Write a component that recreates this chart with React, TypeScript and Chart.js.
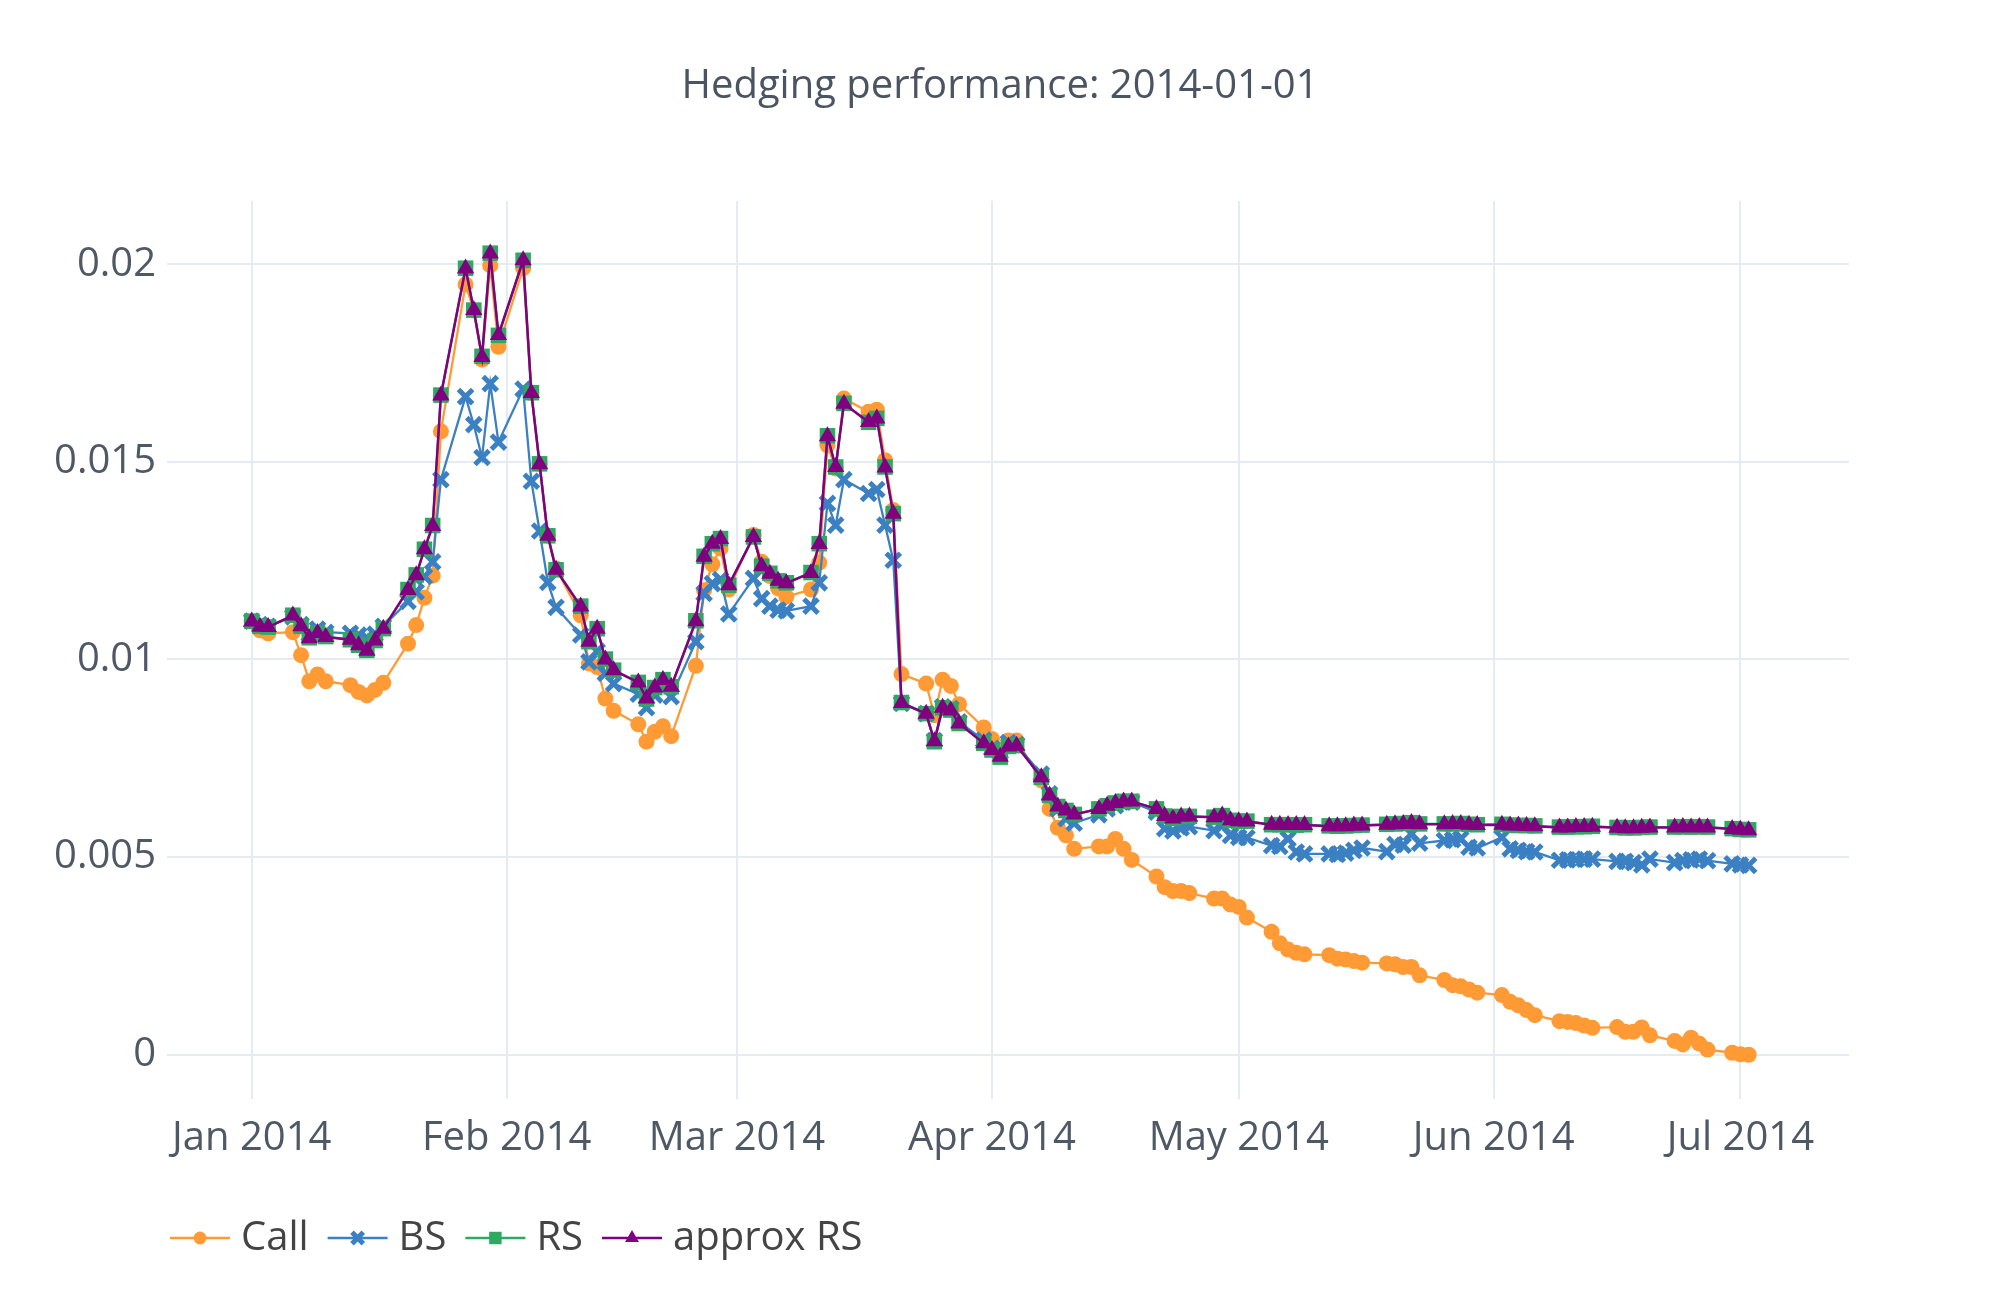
import { useEffect, useRef } from "react"
import { Chart, registerables } from "chart.js"
import { drawPoint } from "chart.js/helpers"

Chart.register(...registerables)

// weekdays present in the data, per month
const months = ["2014-01", "2014-02", "2014-03", "2014-04", "2014-05", "2014-06", "2014-07"]
const monthDays = [
  [1, 2, 3, 6, 7, 8, 9, 10, 13, 14, 15, 16, 17, 20, 21, 22, 23, 24, 27, 28, 29, 30, 31],
  [3, 4, 5, 6, 7, 10, 11, 12, 13, 14, 17, 18, 19, 20, 21, 24, 25, 26, 27, 28],
  [3, 4, 5, 6, 7, 10, 11, 12, 13, 14, 17, 18, 19, 20, 21, 24, 25, 26, 27, 28, 31],
  [1, 2, 3, 4, 7, 8, 9, 10, 11, 14, 15, 16, 17, 18, 21, 22, 23, 24, 25, 28, 29, 30],
  [1, 2, 5, 6, 7, 8, 9, 12, 13, 14, 15, 16, 19, 20, 21, 22, 23, 26, 27, 28, 29, 30],
  [2, 3, 4, 5, 6, 9, 10, 11, 12, 13, 16, 17, 18, 19, 20, 23, 24, 25, 26, 27, 30],
  [1, 2],
]

const callValues = [
  0.01096, 0.01074, 0.01066, 0.01069, 0.01011, 0.00945, 0.00962, 0.00945, 0.00935, 0.00918, 0.00909, 0.00923,
  0.00941, 0.0104, 0.01087, 0.01156, 0.01212, 0.01577, 0.01949, 0.01883, 0.01759, 0.01997, 0.01791,
  0.0199, 0.01674, 0.01495, 0.01314, 0.0123, 0.01112, 0.0099, 0.00981, 0.00901, 0.0087, 0.00836, 0.00792,
  0.00817, 0.00831, 0.00806, 0.00984, 0.01175, 0.01241, 0.01281, 0.01177,
  0.01315, 0.01247, 0.01211, 0.0118, 0.01159, 0.01177, 0.01245, 0.01542, 0.01483, 0.0166, 0.01627, 0.01632,
  0.01504, 0.01378, 0.00963, 0.00939, 0.00859, 0.00949, 0.00933, 0.00887, 0.00828,
  0.00799, 0.0077, 0.00795, 0.00795, 0.00694, 0.00622, 0.00574, 0.00555, 0.00521, 0.00527, 0.00527, 0.00546,
  0.00521, 0.00493, 0.00451, 0.00424, 0.00414, 0.00414, 0.00409, 0.00395, 0.00395, 0.0038,
  0.00374, 0.00347, 0.00311, 0.00282, 0.00266, 0.00258, 0.00254, 0.00252, 0.00243, 0.00241, 0.00237, 0.00233,
  0.00231, 0.00229, 0.00222, 0.00222, 0.00201, 0.00189, 0.00176, 0.00173, 0.00165, 0.00157,
  0.00151, 0.00134, 0.00125, 0.00113, 0.001, 0.00085, 0.00083, 0.0008, 0.00074, 0.00068, 0.0007, 0.00058,
  0.00058, 0.00069, 0.00049, 0.00035, 0.00026, 0.00043, 0.00028, 0.00013, 0.00005,
  0.00001, 0,
]

const bsValues = [
  0.01097, 0.01088, 0.01084, 0.01108, 0.01088, 0.01064, 0.01077, 0.01069, 0.01066, 0.01062, 0.01054, 0.01064,
  0.01084, 0.01147, 0.01171, 0.0121, 0.01247, 0.01455, 0.01665, 0.01594, 0.01511, 0.01698, 0.0155,
  0.01684, 0.01451, 0.01325, 0.01195, 0.01132, 0.01062, 0.00994, 0.01021, 0.00965, 0.00939, 0.00912, 0.00878,
  0.0091, 0.00927, 0.00906, 0.01045, 0.01167, 0.01192, 0.01202, 0.01115,
  0.01205, 0.01154, 0.01135, 0.01125, 0.01123, 0.01135, 0.01194, 0.01395, 0.0134, 0.01455, 0.0142, 0.0143,
  0.0134, 0.01251, 0.00889, 0.00863, 0.00795, 0.0088, 0.00876, 0.00842, 0.00796,
  0.00775, 0.00766, 0.0079, 0.00785, 0.0071, 0.0066, 0.00622, 0.00597, 0.00586, 0.00607, 0.00622, 0.0063,
  0.00639, 0.00639, 0.00614, 0.00572, 0.00566, 0.00574, 0.00577, 0.00567, 0.0058, 0.00555,
  0.0055, 0.00549, 0.00529, 0.00527, 0.00546, 0.00513, 0.00508, 0.00508, 0.00507, 0.0051, 0.00517, 0.00523,
  0.00514, 0.00532, 0.0053, 0.00559, 0.00535, 0.00542, 0.00544, 0.00546, 0.00525, 0.00523,
  0.0055, 0.00521, 0.00517, 0.00514, 0.00513, 0.00492, 0.00493, 0.00494, 0.00495, 0.00495, 0.00489, 0.00489,
  0.00486, 0.0048, 0.00495, 0.00486, 0.00491, 0.00493, 0.00495, 0.00491, 0.00483,
  0.0048, 0.00479,
]

const rsValues = [
  0.01097, 0.01084, 0.01082, 0.01112, 0.01084, 0.01055, 0.01067, 0.01058, 0.0105, 0.01036, 0.01023, 0.01048,
  0.01078, 0.01177, 0.01214, 0.01279, 0.01339, 0.01669, 0.0199, 0.01884, 0.01767, 0.02028, 0.0182,
  0.0201, 0.01675, 0.01495, 0.01313, 0.01227, 0.01135, 0.01045, 0.01078, 0.01001, 0.00973, 0.00942, 0.009,
  0.00929, 0.00949, 0.00931, 0.01098, 0.01261, 0.01293, 0.01306, 0.01188,
  0.0131, 0.01236, 0.01218, 0.01199, 0.01194, 0.0122, 0.01293, 0.01566, 0.01487, 0.01648, 0.016, 0.0161,
  0.01487, 0.01369, 0.00891, 0.00863, 0.00792, 0.00878, 0.00872, 0.00838, 0.00788,
  0.00771, 0.00753, 0.0078, 0.00782, 0.00702, 0.00656, 0.00628, 0.00618, 0.00608, 0.00622, 0.0063, 0.00637,
  0.00641, 0.00641, 0.00622, 0.00604, 0.00598, 0.00603, 0.00603, 0.00601, 0.00605, 0.00593,
  0.00591, 0.00591, 0.00582, 0.00582, 0.00582, 0.00581, 0.00582, 0.00579, 0.00578, 0.00579, 0.0058, 0.00581,
  0.00583, 0.00584, 0.00585, 0.00587, 0.00584, 0.00584, 0.00584, 0.00585, 0.00583, 0.00582,
  0.00583, 0.00581, 0.0058, 0.0058, 0.00579, 0.00576, 0.00576, 0.00577, 0.00577, 0.00578, 0.00575, 0.00574,
  0.00574, 0.00575, 0.00576, 0.00576, 0.00577, 0.00576, 0.00577, 0.00576, 0.00572,
  0.0057, 0.00569,
]

const approxRsValues = [
  0.01096, 0.01083, 0.01082, 0.01111, 0.01084, 0.01054, 0.01067, 0.01057, 0.0105, 0.01036, 0.01022, 0.01048,
  0.01078, 0.01176, 0.01213, 0.01279, 0.01338, 0.01668, 0.01989, 0.01884, 0.01765, 0.02027, 0.01821,
  0.0201, 0.01674, 0.01494, 0.01313, 0.01227, 0.01134, 0.01045, 0.01078, 0.01, 0.00973, 0.00942, 0.00901,
  0.00929, 0.00948, 0.00931, 0.01097, 0.0126, 0.01293, 0.01305, 0.01188,
  0.0131, 0.01236, 0.01217, 0.01199, 0.01193, 0.01219, 0.01292, 0.01565, 0.01487, 0.01647, 0.01601, 0.0161,
  0.01486, 0.01369, 0.0089, 0.00863, 0.00793, 0.00878, 0.00871, 0.00838, 0.00788,
  0.00771, 0.00754, 0.0078, 0.00782, 0.00702, 0.00656, 0.00628, 0.00618, 0.00608, 0.00622, 0.0063, 0.00637,
  0.00641, 0.00641, 0.00622, 0.00604, 0.00598, 0.00603, 0.00603, 0.00601, 0.00605, 0.00593,
  0.00591, 0.0059, 0.00582, 0.00582, 0.00581, 0.00581, 0.00581, 0.00578, 0.00578, 0.00578, 0.0058, 0.0058,
  0.00582, 0.00583, 0.00584, 0.00586, 0.00583, 0.00583, 0.00584, 0.00584, 0.00582, 0.00581,
  0.00582, 0.0058, 0.0058, 0.00579, 0.00578, 0.00575, 0.00575, 0.00576, 0.00576, 0.00577, 0.00574, 0.00573,
  0.00573, 0.00574, 0.00575, 0.00575, 0.00576, 0.00575, 0.00576, 0.00575, 0.00571,
  0.00569, 0.00568,
]

const xTickDates = ["2014-01-01", "2014-02-01", "2014-03-01", "2014-04-01", "2014-05-01", "2014-06-01", "2014-07-01"]
const xTickLabels = ["Jan 2014", "Feb 2014", "Mar 2014", "Apr 2014", "May 2014", "Jun 2014", "Jul 2014"]
const yTicks = [0, 0.005, 0.01, 0.015, 0.02]
const yTickLabels = ["0", "0.005", "0.01", "0.015", "0.02"]

const titleText = "Hedging performance: 2014-01-01"

const DAY = 86400000
const toMs = (d: string) => Date.parse(d + "T00:00:00Z")

const dates = months.flatMap((m, i) => monthDays[i].map((d) => `${m}-${String(d).padStart(2, "0")}`))
const xs = dates.map(toMs)
const xTickMs = xTickDates.map(toMs)

const FONT = "'Open Sans', 'Noto Sans', sans-serif"

// title + plotly-like legend (short line with the marker in the middle, then the label)
const decorations = {
  id: "decorations",
  afterDraw(chart: any) {
    const ctx = chart.ctx
    ctx.save()
    ctx.font = `40px ${FONT}`
    ctx.textBaseline = "middle"

    ctx.fillStyle = "#4a5462"
    ctx.textAlign = "center"
    ctx.fillText(titleText, 1000, 87)

    ctx.textAlign = "left"
    let x = 170
    const y = 1238
    chart.data.datasets.forEach((ds: any) => {
      ctx.strokeStyle = ds.borderColor
      ctx.lineWidth = ds.borderWidth
      ctx.beginPath()
      ctx.moveTo(x, y)
      ctx.lineTo(x + 60, y)
      ctx.stroke()
      ctx.fillStyle = ds.pointBackgroundColor
      ctx.strokeStyle = ds.pointBorderColor
      ctx.lineWidth = ds.pointBorderWidth
      drawPoint(
        ctx,
        { pointStyle: ds.pointStyle, radius: ds.pointRadius * 0.8, borderWidth: ds.pointBorderWidth, rotation: 0 },
        x + 30,
        y
      )
      ctx.fillStyle = "#444444"
      ctx.fillText(ds.label, x + 71, y + 1)
      x += 71 + ctx.measureText(ds.label).width + 19
    })
    ctx.restore()
  },
}

export default function App() {
  const chartRef = useRef<HTMLCanvasElement>(null)
  const chartInstance = useRef<Chart | null>(null)

  useEffect(() => {
    document.body.style.margin = "0"
    if (!chartRef.current) return
    if (chartInstance.current) chartInstance.current.destroy()
    const ctx = chartRef.current.getContext("2d")
    if (!ctx) return

    const series = (values: number[]) => values.map((v, i) => ({ x: xs[i], y: v }))

    chartInstance.current = new Chart(ctx, {
      type: "line",
      data: {
        datasets: [
          {
            label: "Call",
            data: series(callValues),
            borderColor: "#ff9a35",
            backgroundColor: "#ff9a35",
            pointBackgroundColor: "#ff9a35",
            pointBorderColor: "#ff9a35",
            pointStyle: "circle",
            pointRadius: 8,
            pointBorderWidth: 0,
            borderWidth: 2.3,
            order: 3,
          },
          {
            label: "BS",
            data: series(bsValues),
            borderColor: "#3a80c2",
            backgroundColor: "#3a80c2",
            pointBackgroundColor: "#3a80c2",
            pointBorderColor: "#3a80c2",
            pointStyle: "crossRot",
            pointRadius: 10,
            pointBorderWidth: 5,
            borderWidth: 2.3,
            order: 2,
          },
          {
            label: "RS",
            data: series(rsValues),
            borderColor: "#30a862",
            backgroundColor: "#30a862",
            pointBackgroundColor: "#30a862",
            pointBorderColor: "#30a862",
            pointStyle: "rect",
            pointRadius: 11,
            pointBorderWidth: 0,
            borderWidth: 2.3,
            order: 1,
          },
          {
            label: "approx RS",
            data: series(approxRsValues),
            borderColor: "#800080",
            backgroundColor: "#800080",
            pointBackgroundColor: "#800080",
            pointBorderColor: "#800080",
            pointStyle: "triangle",
            pointRadius: 10,
            pointBorderWidth: 0,
            borderWidth: 2.5,
            order: 0,
          },
        ],
      },
      options: {
        responsive: false,
        animation: false,
        devicePixelRatio: 1,
        layout: { padding: { left: 0, right: 151, top: 201, bottom: 101 } },
        elements: { line: { tension: 0 } },
        plugins: {
          legend: { display: false },
          tooltip: { enabled: false },
          title: { display: false },
        },
        scales: {
          x: {
            type: "linear",
            min: toMs("2014-01-01") - 10.3 * DAY,
            max: toMs("2014-01-01") + 194.2 * DAY,
            grid: { color: "#e6eaf1", lineWidth: 2, drawTicks: false },
            border: { display: false },
            afterBuildTicks: (scale: any) => {
              scale.ticks = xTickMs.map((v) => ({ value: v }))
            },
            afterFit: (scale: any) => {
              scale.height = 100
            },
            ticks: {
              autoSkip: false,
              maxRotation: 0,
              padding: 16,
              color: "#4f5966",
              font: { family: FONT, size: 40 },
              callback: (value: any) => xTickLabels[xTickMs.indexOf(Number(value))] ?? "",
            },
          },
          y: {
            type: "linear",
            min: -0.00112,
            max: 0.0216,
            grid: { color: "#e6eaf1", lineWidth: 2, drawTicks: false },
            border: { display: false },
            afterBuildTicks: (scale: any) => {
              scale.ticks = yTicks.map((v) => ({ value: v }))
            },
            afterFit: (scale: any) => {
              scale.width = 167
            },
            ticks: {
              padding: 11,
              color: "#4f5966",
              font: { family: FONT, size: 40 },
              callback: (value: any) => yTickLabels[yTicks.indexOf(Number(value))] ?? "",
            },
          },
        },
      },
      plugins: [decorations],
    })

    return () => {
      if (chartInstance.current) {
        chartInstance.current.destroy()
        chartInstance.current = null
      }
    }
  }, [])

  return (
    <div style={{ width: 2000, height: 1300, background: "#fff" }}>
      <canvas ref={chartRef} width={2000} height={1300} style={{ display: "block" }} />
    </div>
  )
}
